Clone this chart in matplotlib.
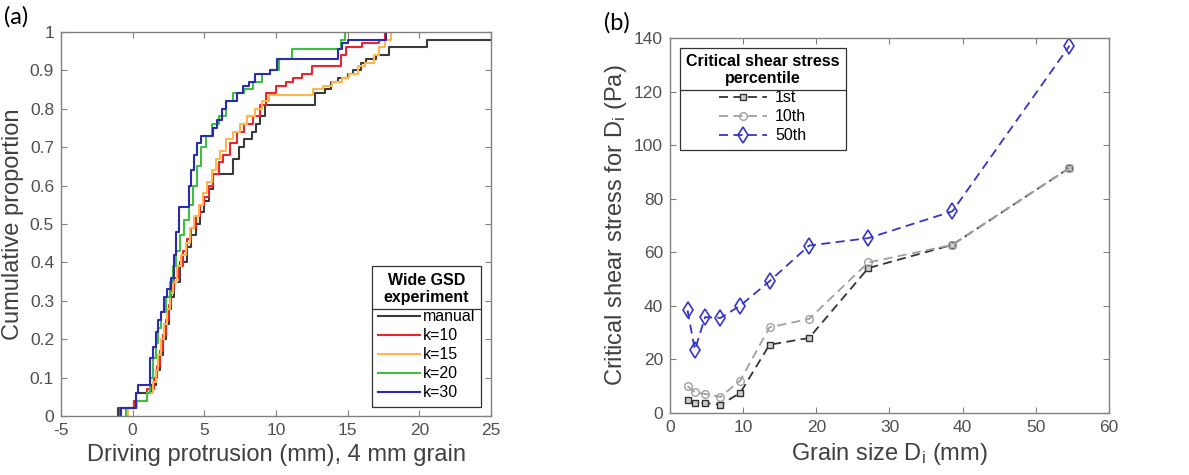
import numpy as np
import matplotlib

matplotlib.use("Agg")
import matplotlib.pyplot as plt
from matplotlib.lines import Line2D

plt.rcParams["font.family"] = ["Liberation Sans", "DejaVu Sans"]
plt.rcParams["mathtext.default"] = "regular"
plt.rcParams["axes.unicode_minus"] = False

# ---- panel (a): cumulative distributions of driving protrusion (step x, level after step)
manual_x = [-1.0, 0.1, 0.2, 1.3, 1.6, 1.9, 2.1, 2.3, 2.5, 2.7, 2.9, 3.3, 3.8, 4.1, 4.4,
            4.7, 5.0, 5.3, 5.6, 7.0, 7.4, 7.8, 8.3, 8.6, 8.9, 9.2, 12.7, 13.4, 13.8,
            14.3, 15.0, 15.4, 15.9, 16.3, 17.0, 17.9, 20.5, 25.0]
manual_y = [0.02, 0.04, 0.06, 0.08, 0.12, 0.16, 0.20, 0.24, 0.28, 0.31, 0.35, 0.40, 0.44,
            0.47, 0.50, 0.53, 0.56, 0.59, 0.63, 0.67, 0.70, 0.72, 0.74, 0.76, 0.78, 0.81,
            0.84, 0.85, 0.87, 0.88, 0.89, 0.90, 0.92, 0.93, 0.94, 0.96, 0.98, 0.98]
k10_x = [-0.9, 0.1, 1.0, 1.5, 1.7, 1.9, 2.1, 2.3, 2.5, 2.7, 2.9, 3.2, 3.5, 3.8, 4.1, 4.4,
         4.7, 5.0, 5.3, 5.6, 6.0, 6.3, 6.8, 7.3, 7.8, 8.4, 8.9, 9.3, 10.0, 10.7, 11.2,
         11.8, 12.5, 14.5, 14.9, 16.0, 17.2, 17.6]
k10_y = [0.02, 0.04, 0.07, 0.10, 0.13, 0.17, 0.21, 0.25, 0.29, 0.33, 0.36, 0.39, 0.43,
         0.46, 0.49, 0.52, 0.55, 0.57, 0.60, 0.63, 0.66, 0.68, 0.71, 0.74, 0.76, 0.78,
         0.81, 0.84, 0.86, 0.87, 0.88, 0.89, 0.91, 0.94, 0.96, 0.97, 0.98, 1.0]
k15_x = [-0.3, 0.3, 1.0, 1.4, 1.6, 1.8, 2.0, 2.2, 2.4, 2.6, 2.8, 3.1, 3.4, 3.7, 4.0, 4.3,
         4.6, 4.9, 5.2, 5.5, 5.8, 6.1, 6.5, 7.0, 7.5, 8.0, 8.5, 9.0, 9.5, 12.6, 13.3,
         13.9, 14.6, 15.1, 15.7, 16.2, 16.8, 17.2, 17.6, 18.0]
k15_y = [0.02, 0.04, 0.06, 0.09, 0.12, 0.16, 0.20, 0.24, 0.28, 0.32, 0.35, 0.39, 0.42,
         0.45, 0.49, 0.52, 0.55, 0.58, 0.61, 0.64, 0.67, 0.69, 0.72, 0.74, 0.76, 0.78,
         0.80, 0.82, 0.835, 0.85, 0.86, 0.87, 0.88, 0.89, 0.91, 0.92, 0.94, 0.96, 0.98, 1.0]
k20_x = [-0.5, 0.2, 1.0, 1.2, 1.4, 1.6, 1.8, 2.0, 2.3, 2.6, 2.8, 3.0, 3.3, 3.6, 3.9, 4.2,
         4.5, 4.8, 5.1, 5.5, 6.0, 6.5, 7.0, 7.8, 8.4, 9.0, 9.6, 10.2, 11.1, 14.5, 14.8]
k20_y = [0.02, 0.04, 0.06, 0.10, 0.15, 0.19, 0.23, 0.27, 0.31, 0.35, 0.39, 0.43, 0.47,
         0.51, 0.55, 0.60, 0.65, 0.70, 0.73, 0.76, 0.78, 0.82, 0.84, 0.85, 0.87, 0.89,
         0.90, 0.93, 0.955, 0.98, 1.0]
k30_x = [-0.8, 0.2, 0.4, 1.2, 1.4, 1.6, 1.8, 2.0, 2.2, 2.4, 2.7, 2.85, 3.0, 3.2, 3.9, 4.1,
         4.3, 4.5, 4.8, 5.6, 5.9, 6.2, 6.5, 7.3, 7.7, 8.1, 8.5, 9.6, 10.1, 14.3, 14.6,
         15.0, 17.7]
k30_y = [0.02, 0.06, 0.08, 0.15, 0.18, 0.22, 0.25, 0.27, 0.31, 0.33, 0.36, 0.42, 0.48,
         0.545, 0.60, 0.64, 0.68, 0.71, 0.73, 0.75, 0.77, 0.80, 0.82, 0.84, 0.86, 0.87,
         0.89, 0.90, 0.93, 0.955, 0.97, 0.98, 1.0]
cdf_labels = ["manual", "k=10", "k=15", "k=20", "k=30"]

# ---- panel (b): critical shear stress vs grain size
grain_size = [2.4, 3.4, 4.8, 6.9, 9.6, 13.6, 19.0, 27.1, 38.6, 54.6]
tau_1st = [4.7, 3.7, 3.7, 3.1, 7.5, 25.5, 28.0, 54.1, 62.8, 91.5]
tau_10th = [10.0, 7.7, 7.1, 6.0, 12.1, 32.0, 35.1, 56.2, 62.8, 91.5]
tau_50th = [38.3, 23.6, 35.8, 35.5, 40.1, 49.2, 62.5, 65.3, 75.3, 137.1]
pct_labels = ["1st", "10th", "50th"]

TICK_COL = "#505050"
SPINE_COL = "#808080"


def style_axes(ax):
    for sp in ax.spines.values():
        sp.set_color(SPINE_COL)
        sp.set_linewidth(1.0)
    ax.tick_params(direction="in", top=True, right=True, length=4, width=0.8,
                   color=SPINE_COL, labelcolor=TICK_COL, labelsize=12.5, pad=5)


def add_title_rule(fig, leg):
    """MATLAB-style line between legend title and entries."""
    fig.canvas.draw()
    box = leg.get_frame().get_window_extent()
    tb = leg.get_title().get_window_extent()
    inv = fig.transFigure.inverted()
    y = tb.y0 - 4
    (x0, yy), (x1, _) = inv.transform([(box.x0, y), (box.x1, y)])
    fig.lines.append(Line2D([x0, x1], [yy, yy], transform=fig.transFigure,
                            color="#333333", linewidth=0.9))


fig = plt.figure(figsize=(11.89, 4.75), dpi=100)
ax1 = fig.add_axes([0.0513, 0.124, 0.3617, 0.809])
ax2 = fig.add_axes([0.5635, 0.1305, 0.3692, 0.7895])

colors = ["#3a3a3a", "#e8262f", "#ffb74d", "#3fbf3f", "#2b2bb0"]
for xs, ys, c, lab in zip([manual_x, k10_x, k15_x, k20_x, k30_x],
                          [manual_y, k10_y, k15_y, k20_y, k30_y], colors, cdf_labels):
    xs = np.concatenate([[xs[0]], xs])
    ys = np.concatenate([[0.0], ys])
    ax1.step(xs, ys, where="post", color=c, linewidth=1.5, label=lab)

ax1.set_xlim(-5, 25)
ax1.set_ylim(0, 1)
ax1.set_xticks(np.arange(-5, 26, 5))
ax1.set_yticks(np.arange(0, 1.01, 0.1))
ax1.set_yticklabels(["0"] + [f"{v:.1f}" for v in np.arange(0.1, 0.95, 0.1)] + ["1"])
ax1.set_xlabel("Driving protrusion (mm), 4 mm grain", fontsize=17, color="#404040")
ax1.set_ylabel("Cumulative proportion", fontsize=17, color="#404040", labelpad=4)
style_axes(ax1)
leg1 = ax1.legend(title="Wide GSD\nexperiment", loc="lower right", fontsize=11.5,
                  title_fontproperties={"weight": "bold", "size": 11.5},
                  handlelength=2.6, handletextpad=0.2, borderaxespad=0.6,
                  fancybox=False, edgecolor="#333333", framealpha=1,
                  labelspacing=0.25, borderpad=0.4)
leg1.get_frame().set_linewidth(0.9)
leg1.get_title().set_multialignment("center")

ax2.plot(grain_size, tau_1st, "--s", color="#333333", markerfacecolor="#cfcfcf",
         markersize=5, linewidth=1.3, dashes=(5, 3), label=pct_labels[0])
ax2.plot(grain_size, tau_10th, "--o", color="#a0a0a0", markerfacecolor="none",
         markersize=5.5, linewidth=1.3, dashes=(5, 3), label=pct_labels[1])
ax2.plot(grain_size, tau_50th, "--d", color="#3535c8", markerfacecolor="none",
         markersize=8, markeredgewidth=1.2, linewidth=1.3, dashes=(5, 3),
         label=pct_labels[2])
ax2.set_xlim(0, 60)
ax2.set_ylim(0, 140)
ax2.set_xticks(np.arange(0, 61, 10))
ax2.set_yticks(np.arange(0, 141, 20))
ax2.set_xlabel("Grain size D$_i$ (mm)", fontsize=17, color="#404040")
ax2.set_ylabel("Critical shear stress for D$_i$ (Pa)", fontsize=17, color="#404040",
               labelpad=4)
style_axes(ax2)
leg2 = ax2.legend(title="Critical shear stress\npercentile", loc="upper left",
                  fontsize=11.5, title_fontproperties={"weight": "bold", "size": 11.5},
                  handlelength=3.0, handletextpad=0.5, borderaxespad=0.6,
                  fancybox=False, edgecolor="#333333", framealpha=1,
                  labelspacing=0.25, borderpad=0.4)
leg2.get_frame().set_linewidth(0.9)
leg2.get_title().set_multialignment("center")

fig.text(0.003, 0.965, "(a)", fontsize=17, family=["Lato", "DejaVu Sans"], va="center")
fig.text(0.508, 0.952, "(b)", fontsize=17, family=["Lato", "DejaVu Sans"], va="center")

add_title_rule(fig, leg1)
add_title_rule(fig, leg2)

fig.savefig("out.png", dpi=100)
